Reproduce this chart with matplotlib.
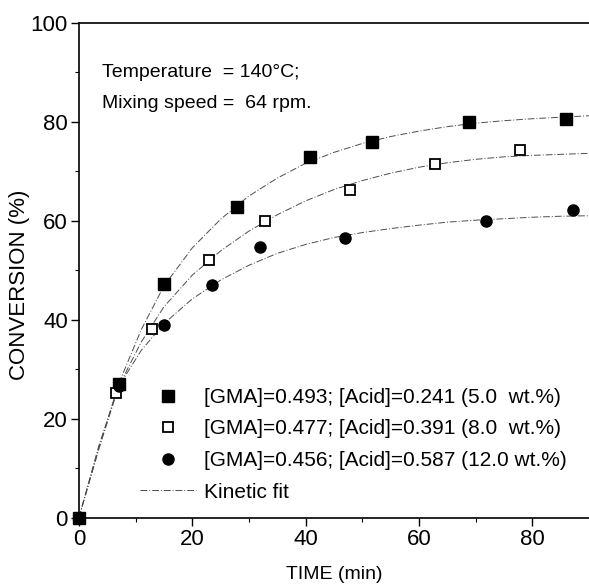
import matplotlib
matplotlib.use("Agg")
import matplotlib.pyplot as plt
from matplotlib.lines import Line2D

plt.rcParams['font.family'] = ['Liberation Sans Narrow', 'Liberation Sans', 'DejaVu Sans']

# measured points
t_a = [0, 7.0, 15.0, 27.9, 40.8, 51.7, 68.8, 85.9]
y_a = [0, 27.1, 47.2, 62.7, 72.9, 75.9, 79.9, 80.6]
t_b = [0, 6.5, 12.9, 23.0, 32.9, 47.9, 62.8, 77.9]
y_b = [0, 25.2, 38.2, 52.1, 60.0, 66.1, 71.5, 74.2]
t_c = [0, 7.0, 15.0, 23.5, 31.9, 46.9, 71.8, 87.1]
y_c = [0, 26.6, 39.0, 47.1, 54.6, 56.5, 59.9, 62.2]

# kinetic fit curves
t_fit = [0, 3.5, 7, 11, 15, 20, 25, 30, 35, 40, 45, 50, 55, 60, 65, 70, 75, 80, 85, 90]
fit_a = [0, 14.0, 27.0, 38.0, 46.8, 54.5, 60.3, 65.0, 68.6, 71.6, 73.8, 75.6, 77.0, 78.1, 79.0, 79.7, 80.2, 80.6, 80.9, 81.2]
fit_b = [0, 13.8, 26.5, 35.5, 42.6, 49.0, 53.9, 57.9, 61.2, 64.0, 66.3, 68.1, 69.6, 70.8, 71.7, 72.4, 72.9, 73.2, 73.4, 73.6]
fit_c = [0, 14.5, 26.5, 33.8, 39.2, 44.2, 48.0, 51.0, 53.4, 55.2, 56.6, 57.6, 58.4, 59.1, 59.7, 60.1, 60.4, 60.7, 60.9, 61.0]

labels = ["[GMA]=0.493; [Acid]=0.241 (5.0  wt.%)",
          "[GMA]=0.477; [Acid]=0.391 (8.0  wt.%)",
          "[GMA]=0.456; [Acid]=0.587 (12.0 wt.%)",
          "Kinetic fit"]

fig = plt.figure(figsize=(5.89, 5.88), dpi=100)
ax = fig.add_axes([0.134, 0.1196, 0.866, 0.8418])

fit_style = dict(color='0.3', lw=0.7, ls=(0, (7, 2, 1, 2)))
for f in (fit_a, fit_b, fit_c):
    ax.plot(t_fit, f, **fit_style)

ax.plot(t_a, y_a, 's', color='black', ms=8, clip_on=False)
ax.plot(t_b, y_b, 's', mfc='white', mec='black', mew=1.3, ms=7, clip_on=False)
ax.plot(t_c, y_c, 'o', color='black', ms=8, clip_on=False)

ax.set_xlim(0, 90)
ax.set_ylim(0, 100)
ax.set_xticks([0, 20, 40, 60, 80])
ax.set_xticks(range(10, 90, 20), minor=True)
ax.set_yticks(range(0, 101, 20))
ax.set_yticks(range(10, 100, 20), minor=True)
ax.tick_params(which='major', direction='out', length=6, width=1, labelsize=16, pad=2)
ax.tick_params(which='minor', direction='out', length=3, width=0.8)
ax.spines['right'].set_visible(False)
for s in ('left', 'bottom', 'top'):
    ax.spines[s].set_linewidth(1.2)

ax.set_xlabel("TIME (min)", fontsize=14)
ax.xaxis.set_label_coords(0.5, -0.098)
ax.set_ylabel("CONVERSION (%)", fontsize=16)
ax.yaxis.set_label_coords(-0.095, 0.47)

ax.text(0.045, 0.891, "Temperature  = 140\u00b0C;", transform=ax.transAxes, fontsize=14)
ax.text(0.045, 0.828, "Mixing speed =  64 rpm.", transform=ax.transAxes, fontsize=14)

handles = [Line2D([], [], ls='none', marker='s', color='black', ms=8),
           Line2D([], [], ls='none', marker='s', mfc='white', mec='black', mew=1.3, ms=7),
           Line2D([], [], ls='none', marker='o', color='black', ms=8),
           Line2D([], [], **fit_style)]
ax.legend(handles, labels, loc='upper left', bbox_to_anchor=(140 / 589, 1 - 388 / 588),
          bbox_transform=fig.transFigure, frameon=False, fontsize=15,
          handlelength=2.7, handletextpad=0.35, labelspacing=0.6, borderpad=0, borderaxespad=0)

fig.savefig("out.png", dpi=100)
